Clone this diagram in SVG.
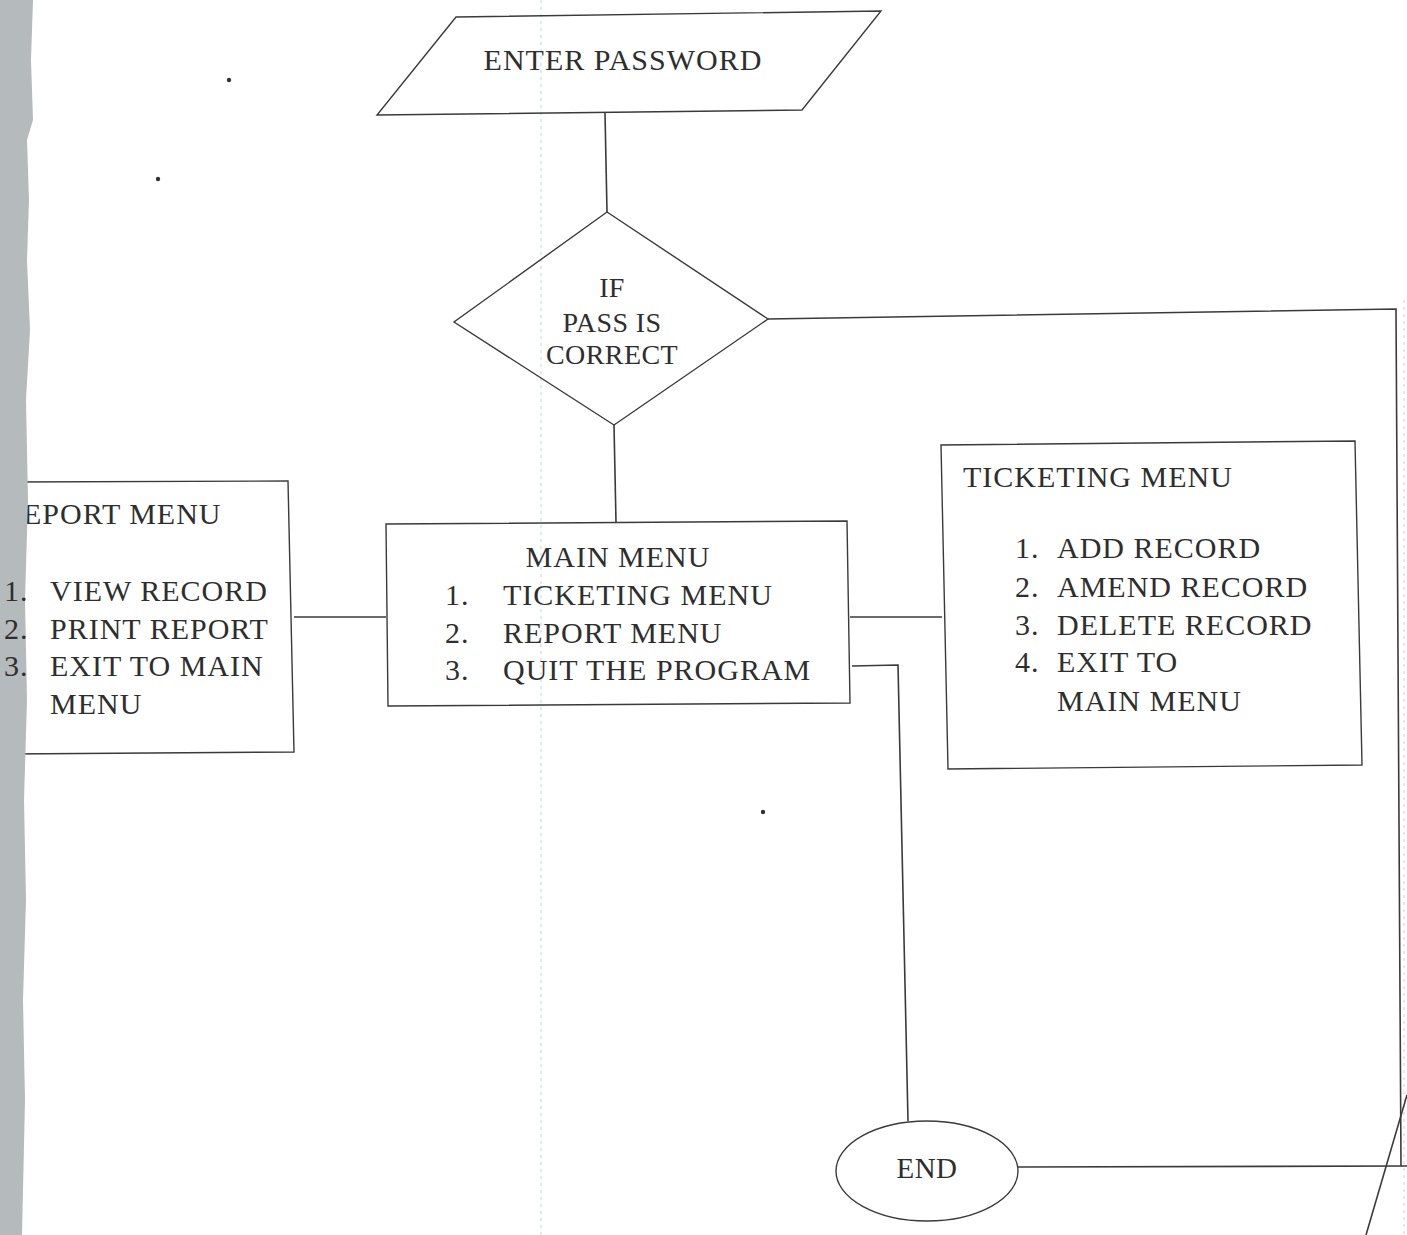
<svg xmlns="http://www.w3.org/2000/svg" width="1407" height="1235" viewBox="0 0 1407 1235">
  <style>
    .shape { fill: none; stroke: #3a3a3a; stroke-width: 1.4; }
    .conn { fill: none; stroke: #3a3a3a; stroke-width: 1.6; }
    .t { font-family: "Liberation Serif", "Times New Roman", serif; fill: #2e2e2e; font-size: 30px; letter-spacing: 1px; }
    .ts { font-size: 28px; letter-spacing: 0.4px; }
    .scan { fill: none; stroke: #c9d3dc; stroke-width: 1; stroke-dasharray: 3 4; }
  </style>
  <rect x="0" y="0" width="1407" height="1235" fill="#ffffff"/>

  <!-- faint scan artefacts -->
  <line class="scan" x1="541" y1="0" x2="541" y2="1235"/>
  <line class="scan" x1="1404" y1="300" x2="1404" y2="1235"/>
  <circle cx="229" cy="80" r="2.2" fill="#333"/>
  <circle cx="158" cy="179" r="2.2" fill="#333"/>
  <circle cx="763" cy="812" r="2.2" fill="#333"/>

  <g id="connectors">
    <line class="conn" x1="605" y1="113" x2="607" y2="212"/>
    <line class="conn" x1="614" y1="425" x2="616" y2="522"/>
    <polyline class="conn" points="768,319 1396,309 1401,1166"/>
    <line class="conn" x1="294" y1="617" x2="386" y2="617"/>
    <line class="conn" x1="850" y1="617" x2="942" y2="617"/>
    <polyline class="conn" points="852,666 898,665 908,1121"/>
    <line class="conn" x1="1018" y1="1167" x2="1407" y2="1166"/>
    <line class="conn" x1="1407" y1="1095" x2="1366" y2="1235"/>
  </g>

  <g id="enter-password">
    <polygon class="shape" points="456,17 881,11 802,110 377,115"/>
    <text class="t" x="623" y="70" text-anchor="middle">ENTER PASSWORD</text>
  </g>

  <g id="decision">
    <polygon class="shape" points="607,212 768,319 614,425 454,322"/>
    <text class="t ts" x="612" y="297" text-anchor="middle">IF</text>
    <text class="t ts" x="612" y="332" text-anchor="middle">PASS IS</text>
    <text class="t ts" x="612" y="364" text-anchor="middle">CORRECT</text>
  </g>

  <g id="main-menu">
    <polygon class="shape" points="386,524 847,521 850,703 388,706"/>
    <text class="t" x="618" y="567" text-anchor="middle">MAIN MENU</text>
    <text class="t" x="445" y="605">1.</text>
    <text class="t" x="503" y="605">TICKETING MENU</text>
    <text class="t" x="445" y="643">2.</text>
    <text class="t" x="503" y="643">REPORT MENU</text>
    <text class="t" x="445" y="680">3.</text>
    <text class="t" x="503" y="680">QUIT THE PROGRAM</text>
  </g>

  <g id="report-menu">
    <polyline class="shape" points="10,482 288,481 294,752 10,754"/>
    <text class="t" x="2" y="524">REPORT MENU</text>
  </g>

  <!-- scanned page edge -->
  <path d="M0,0 L33,0 L31,60 L33,120 L27,140 L29,200 L27,260 L30,330 L26,400 L28,500 L25,600 L27,700 L24,800 L26,900 L23,1000 L25,1100 L22,1235 L0,1235 Z" fill="#b5babd"/>

  <g id="report-menu-items">
    <text class="t" x="4" y="601">1.</text>
    <text class="t" x="50" y="601">VIEW RECORD</text>
    <text class="t" x="4" y="639">2.</text>
    <text class="t" x="50" y="639">PRINT REPORT</text>
    <text class="t" x="4" y="676">3.</text>
    <text class="t" x="50" y="676">EXIT TO MAIN</text>
    <text class="t" x="50" y="714">MENU</text>
  </g>

  <g id="ticketing-menu">
    <polygon class="shape" points="941,445 1355,441 1362,765 948,769"/>
    <text class="t" x="963" y="487">TICKETING MENU</text>
    <text class="t" x="1015" y="558">1.</text>
    <text class="t" x="1057" y="558">ADD RECORD</text>
    <text class="t" x="1015" y="597">2.</text>
    <text class="t" x="1057" y="597">AMEND RECORD</text>
    <text class="t" x="1015" y="635">3.</text>
    <text class="t" x="1057" y="635">DELETE RECORD</text>
    <text class="t" x="1015" y="672">4.</text>
    <text class="t" x="1057" y="672">EXIT TO</text>
    <text class="t" x="1057" y="711">MAIN MENU</text>
  </g>

  <g id="end">
    <ellipse class="shape" cx="927" cy="1171" rx="91" ry="50"/>
    <text class="t ts" x="927" y="1178" text-anchor="middle" style="font-size:29px">END</text>
  </g>
</svg>
